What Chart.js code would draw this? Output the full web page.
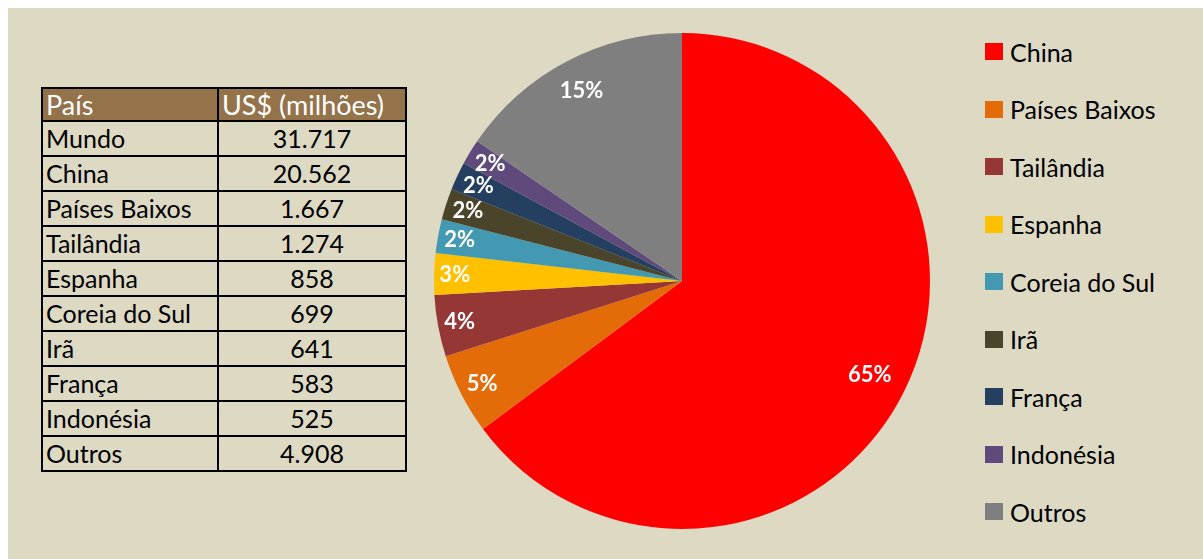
<!DOCTYPE html>
<html lang="pt">
<head>
<meta charset="UTF-8">
<title>Exportações por país</title>
<script src="https://cdn.jsdelivr.net/npm/chart.js"></script>
<style>
  html, body { margin: 0; padding: 0; background: #fff; }
  #painel {
    position: absolute; left: 8px; top: 8px; width: 1195px; height: 551px;
    background: #DDD9C3; overflow: hidden;
  }
  #tabela {
    position: absolute; left: 33px; top: 79px;
    border-collapse: collapse; font-family: Lato, sans-serif; font-size: 25px; color: #000;
  }
  #tabela th, #tabela td {
    border: 2px solid #000; height: 33px; padding: 0 3px; line-height: 1;
  }
  #tabela th { background: #94734B; color: #fff; font-weight: normal; height: 31px; font-size: 27px; }
  #tabela th:first-child, #tabela td:first-child { width: 168px; text-align: left; }
  #tabela th:last-child { width: 180px; text-align: left; }
  #tabela td:last-child { text-align: center; }
  #grafico { position: absolute; left: 404px; top: 0; }
  #legenda {
    position: absolute; left: 977px; top: 15px; margin: 0; padding: 0; list-style: none;
    font-family: Lato, sans-serif; font-size: 25px; color: #000;
  }
  #legenda li { height: 57.5px; display: flex; align-items: center; }
  #legenda span.caixa { display: inline-block; width: 18px; height: 17px; margin-right: 7px; }
</style>
</head>
<body>
<div id="painel">
  <table id="tabela">
    <thead><tr><th>País</th><th>US$ (milhões)</th></tr></thead>
    <tbody id="corpo"></tbody>
  </table>
  <canvas id="grafico" width="540" height="551"></canvas>
  <ul id="legenda"></ul>
</div>
<script>
const totalMundo = 31717;
const paises = ['China', 'Países Baixos', 'Tailândia', 'Espanha', 'Coreia do Sul', 'Irã', 'França', 'Indonésia', 'Outros'];
const valores = [20562, 1667, 1274, 858, 699, 641, 583, 525, 4908];
const cores = ['#FF0000', '#E36C09', '#953735', '#FFC000', '#4299B1', '#4A452A', '#243F60', '#604A7B', '#7F7F7F'];

// tabela à esquerda (ponto como separador de milhar)
const fmt = n => n.toLocaleString('de-DE');
const corpo = document.getElementById('corpo');
let fila = document.createElement('tr');
fila.innerHTML = `<td>Mundo</td><td>${fmt(totalMundo)}</td>`;
corpo.appendChild(fila);
paises.forEach((p, i) => {
  fila = document.createElement('tr');
  fila.innerHTML = `<td>${p}</td><td>${fmt(valores[i])}</td>`;
  corpo.appendChild(fila);
});

// rótulos de porcentagem dentro das fatias, junto à borda
const rotulos = {
  id: 'rotulos',
  afterDatasetsDraw(chart) {
    const ctx = chart.ctx;
    const meta = chart.getDatasetMeta(0);
    const soma = valores.reduce((a, b) => a + b, 0);
    ctx.save();
    ctx.font = 'bold 22px Lato, sans-serif';
    ctx.fillStyle = '#fff';
    ctx.textAlign = 'center';
    ctx.textBaseline = 'middle';
    meta.data.forEach((arc, i) => {
      const { x, y, startAngle, endAngle, outerRadius } = arc.getProps(['x', 'y', 'startAngle', 'endAngle', 'outerRadius'], true);
      const meio = (startAngle + endAngle) / 2;
      const txt = Math.round(valores[i] / soma * 100) + '%';
      const w = ctx.measureText(txt).width, h = 20;
      const dx = Math.cos(meio), dy = Math.sin(meio);
      const ext = Math.abs(dx) * w / 2 + Math.abs(dy) * h / 2;
      // fatias grandes: rótulo um pouco mais para dentro
      const folga = valores[i] / soma > 0.1 ? 14 : 5;
      const r = outerRadius - ext - folga;
      ctx.fillText(txt, x + dx * r, y + dy * r);
    });
    ctx.restore();
  }
};

const grafico = new Chart(document.getElementById('grafico'), {
  type: 'pie',
  data: {
    labels: paises,
    datasets: [{ data: valores, backgroundColor: cores, borderWidth: 0 }]
  },
  options: {
    responsive: false,
    animation: false,
    layout: { padding: { left: 0, right: 0, top: 25, bottom: 30 } },
    plugins: {
      tooltip: { enabled: false },
      legend: { display: false }
    }
  },
  plugins: [rotulos]
});

// legenda à direita, a partir dos itens gerados pelo Chart.js
const legenda = document.getElementById('legenda');
grafico.options.plugins.legend.labels.generateLabels(grafico).forEach(item => {
  const li = document.createElement('li');
  li.innerHTML = `<span class="caixa" style="background:${item.fillStyle}"></span>${item.text}`;
  legenda.appendChild(li);
});
</script>
</body>
</html>
